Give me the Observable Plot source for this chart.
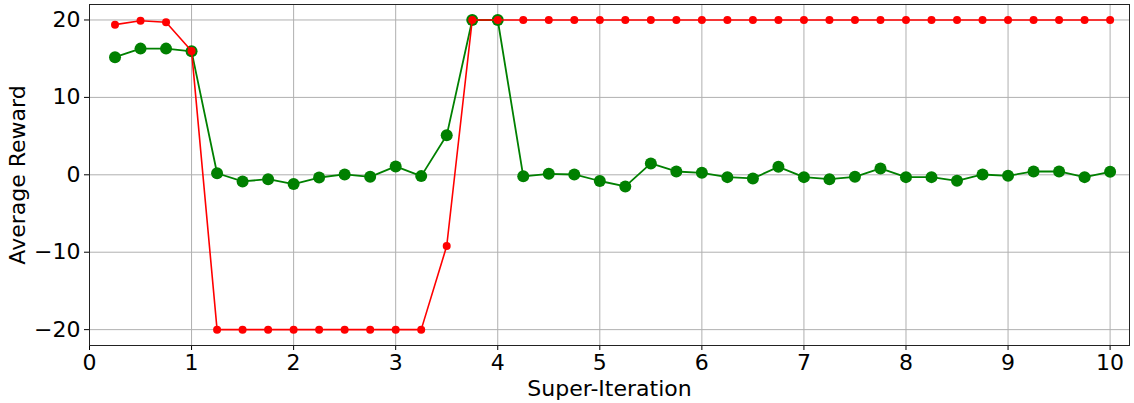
<!DOCTYPE html>
<html>
<head>
<meta charset="utf-8">
<script src="https://cdn.jsdelivr.net/npm/d3@7"></script>
<script src="https://cdn.jsdelivr.net/npm/@observablehq/plot@0.6"></script>
<style>
  html, body { margin: 0; padding: 0; background: #fff; }
</style>
</head>
<body>
<div id="chart"></div>
<script>
const iterations = [0.25,0.5,0.75,1.0,1.25,1.5,1.75,2.0,2.25,2.5,2.75,3.0,3.25,3.5,3.75,4.0,
  4.25,4.5,4.75,5.0,5.25,5.5,5.75,6.0,6.25,6.5,6.75,7.0,7.25,7.5,7.75,8.0,8.25,8.5,8.75,9.0,9.25,9.5,9.75,10.0];
const redSeries = [19.4,19.9,19.7,16.0,-20,-20,-20,-20,-20,-20,-20,-20,-20,-9.2,20,20,
  20,20,20,20,20,20,20,20,20,20,20,20,20,20,20,20,20,20,20,20,20,20,20,20];
const greenSeries = [15.2,16.3,16.3,15.95,0.2,-0.86,-0.56,-1.2,-0.35,0.05,-0.26,1.08,-0.17,5.1,20,20,
  -0.2,0.13,0.04,-0.8,-1.5,1.47,0.43,0.26,-0.3,-0.47,1.03,-0.3,-0.56,-0.26,0.82,-0.3,-0.3,-0.78,0.04,-0.13,0.43,0.43,-0.3,0.39];
const xTicks = [0,1,2,3,4,5,6,7,8,9,10];
const yTicks = [-20,-10,0,10,20];

const red = iterations.map((x, i) => ({x, y: redSeries[i]}));
const green = iterations.map((x, i) => ({x, y: greenSeries[i]}));

const chart = Plot.plot({
  width: 1134,
  height: 403,
  marginLeft: 89,
  marginRight: 5,
  marginTop: 4,
  marginBottom: 58,
  style: {fontFamily: "DejaVu Sans", fontSize: "22px", color: "#000", background: "#fff"},
  x: {domain: [0, 10.19]},
  y: {domain: [-22.05, 22]},
  marks: [
    Plot.gridX(xTicks, {stroke: "#b0b0b0", strokeOpacity: 1, strokeWidth: 1}),
    Plot.gridY(yTicks, {stroke: "#b0b0b0", strokeOpacity: 1, strokeWidth: 1}),
    Plot.axisX(xTicks, {tickSize: 5, tickPadding: 4, label: "Super-Iteration", labelAnchor: "center", labelArrow: "none", labelOffset: 50, fontSize: 22}),
    Plot.axisY(yTicks, {tickSize: 5, tickPadding: 4, label: "Average Reward", labelAnchor: "center", labelArrow: "none", labelOffset: 80, fontSize: 22, tickFormat: d => d < 0 ? "\u2212" + Math.abs(d) : String(d)}),
    Plot.line(green, {x: "x", y: "y", stroke: "green", strokeWidth: 1.8}),
    Plot.dot(green, {x: "x", y: "y", r: 6, fill: "green", stroke: "none"}),
    Plot.line(red, {x: "x", y: "y", stroke: "red", strokeWidth: 1.6}),
    Plot.dot(red, {x: "x", y: "y", r: 4, fill: "red", stroke: "none"}),
    Plot.frame({stroke: "#222", strokeWidth: 1})
  ]
});
document.getElementById("chart").appendChild(chart);
</script>
</body>
</html>
